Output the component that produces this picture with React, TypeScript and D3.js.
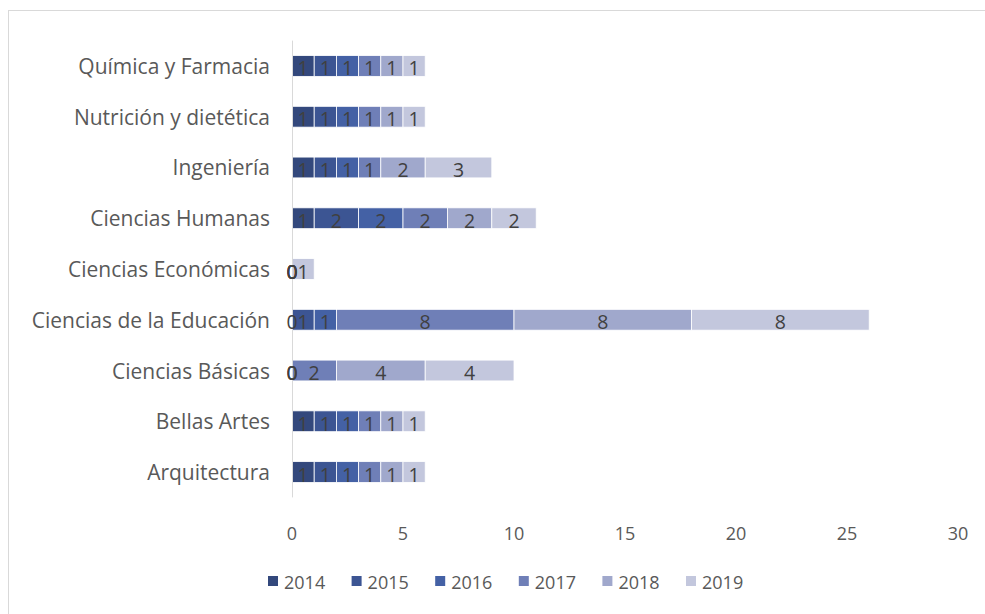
import React from "react";
import * as d3 from "d3";

const categories = [
  "Química y Farmacia",
  "Nutrición y dietética",
  "Ingeniería",
  "Ciencias Humanas",
  "Ciencias Económicas",
  "Ciencias de la Educación",
  "Ciencias Básicas",
  "Bellas Artes",
  "Arquitectura",
];
const seriesNames = ["2014", "2015", "2016", "2017", "2018", "2019"];
const v2014 = [1, 1, 1, 1, 0, 0, 0, 1, 1];
const v2015 = [1, 1, 1, 2, 0, 1, 0, 1, 1];
const v2016 = [1, 1, 1, 2, 0, 1, 0, 1, 1];
const v2017 = [1, 1, 1, 2, 0, 8, 2, 1, 1];
const v2018 = [1, 1, 2, 2, 0, 8, 4, 1, 1];
const v2019 = [1, 1, 3, 2, 1, 8, 4, 1, 1];
const seriesValues = [v2014, v2015, v2016, v2017, v2018, v2019];
const colors = ["#33487C", "#3C5593", "#4461A5", "#6F7FB7", "#A0A8CC", "#C3C7DD"];
const xTicks = [0, 5, 10, 15, 20, 25, 30];

const FONT = "'Open Sans', Lato, sans-serif";

export default function App() {
  const width = 985;
  const height = 614;
  const x = d3.scaleLinear().domain([0, 30]).range([292, 958]);
  const y = d3.scaleBand<string>().domain(categories).range([40.6, 497.4]).paddingInner(0.59).paddingOuter(0.295);

  const rows = categories.map((c, i) => {
    const obj: Record<string, number | string> = { cat: c };
    seriesNames.forEach((s, j) => (obj[s] = seriesValues[j][i]));
    return obj;
  });
  const stack = d3.stack<Record<string, number | string>>().keys(seriesNames);
  const layers = stack(rows as any);

  return (
    <svg width={width} height={height} style={{ position: "absolute", left: 0, top: 0 }} fontFamily={FONT}>
      <rect x={0} y={0} width={width} height={height} fill="#fff" />
      <rect x={8.5} y={10.5} width={990} height={620} fill="none" stroke="#D9D9D9" strokeWidth={1} />
      {layers.map((layer, li) => (
        <g key={li}>
          {layer.map((d, i) => (
            <rect
              key={i}
              x={x(d[0])}
              y={y(categories[i])!}
              width={Math.max(0, x(d[1]) - x(d[0]))}
              height={y.bandwidth()}
              fill={colors[li]}
              stroke="#fff"
              strokeWidth={0.8}
            />
          ))}
        </g>
      ))}
      <line x1={292.5} x2={292.5} y1={40.6} y2={497.4} stroke="#D9D9D9" strokeWidth={1} />
      {layers.map((layer, li) => (
        <g key={"l" + li}>
          {layer.map((d, i) => (
            <text
              key={i}
              x={(x(d[0]) + x(d[1])) / 2}
              y={y(categories[i])! + y.bandwidth() / 2 + 2}
              textAnchor="middle"
              dominantBaseline="central"
              fontSize={19.5}
              fill="#404040"
            >
              {seriesValues[li][i]}
            </text>
          ))}
        </g>
      ))}
      {categories.map((c) => (
        <text
          key={c}
          x={270}
          y={y(c)! + y.bandwidth() / 2}
          textAnchor="end"
          dominantBaseline="central"
          fontSize={21}
          fill="#595959"
        >
          {c}
        </text>
      ))}
      {xTicks.map((t) => (
        <text key={t} x={x(t)} y={533} textAnchor="middle" dominantBaseline="central" fontSize={18} fill="#595959">
          {t}
        </text>
      ))}
      {seriesNames.map((s, i) => {
        const lx = 268 + i * 83.6;
        return (
          <g key={s}>
            <rect x={lx} y={576} width={10} height={10} fill={colors[i]} />
            <text x={lx + 16} y={582} dominantBaseline="central" fontSize={18} fill="#595959">
              {s}
            </text>
          </g>
        );
      })}
    </svg>
  );
}
